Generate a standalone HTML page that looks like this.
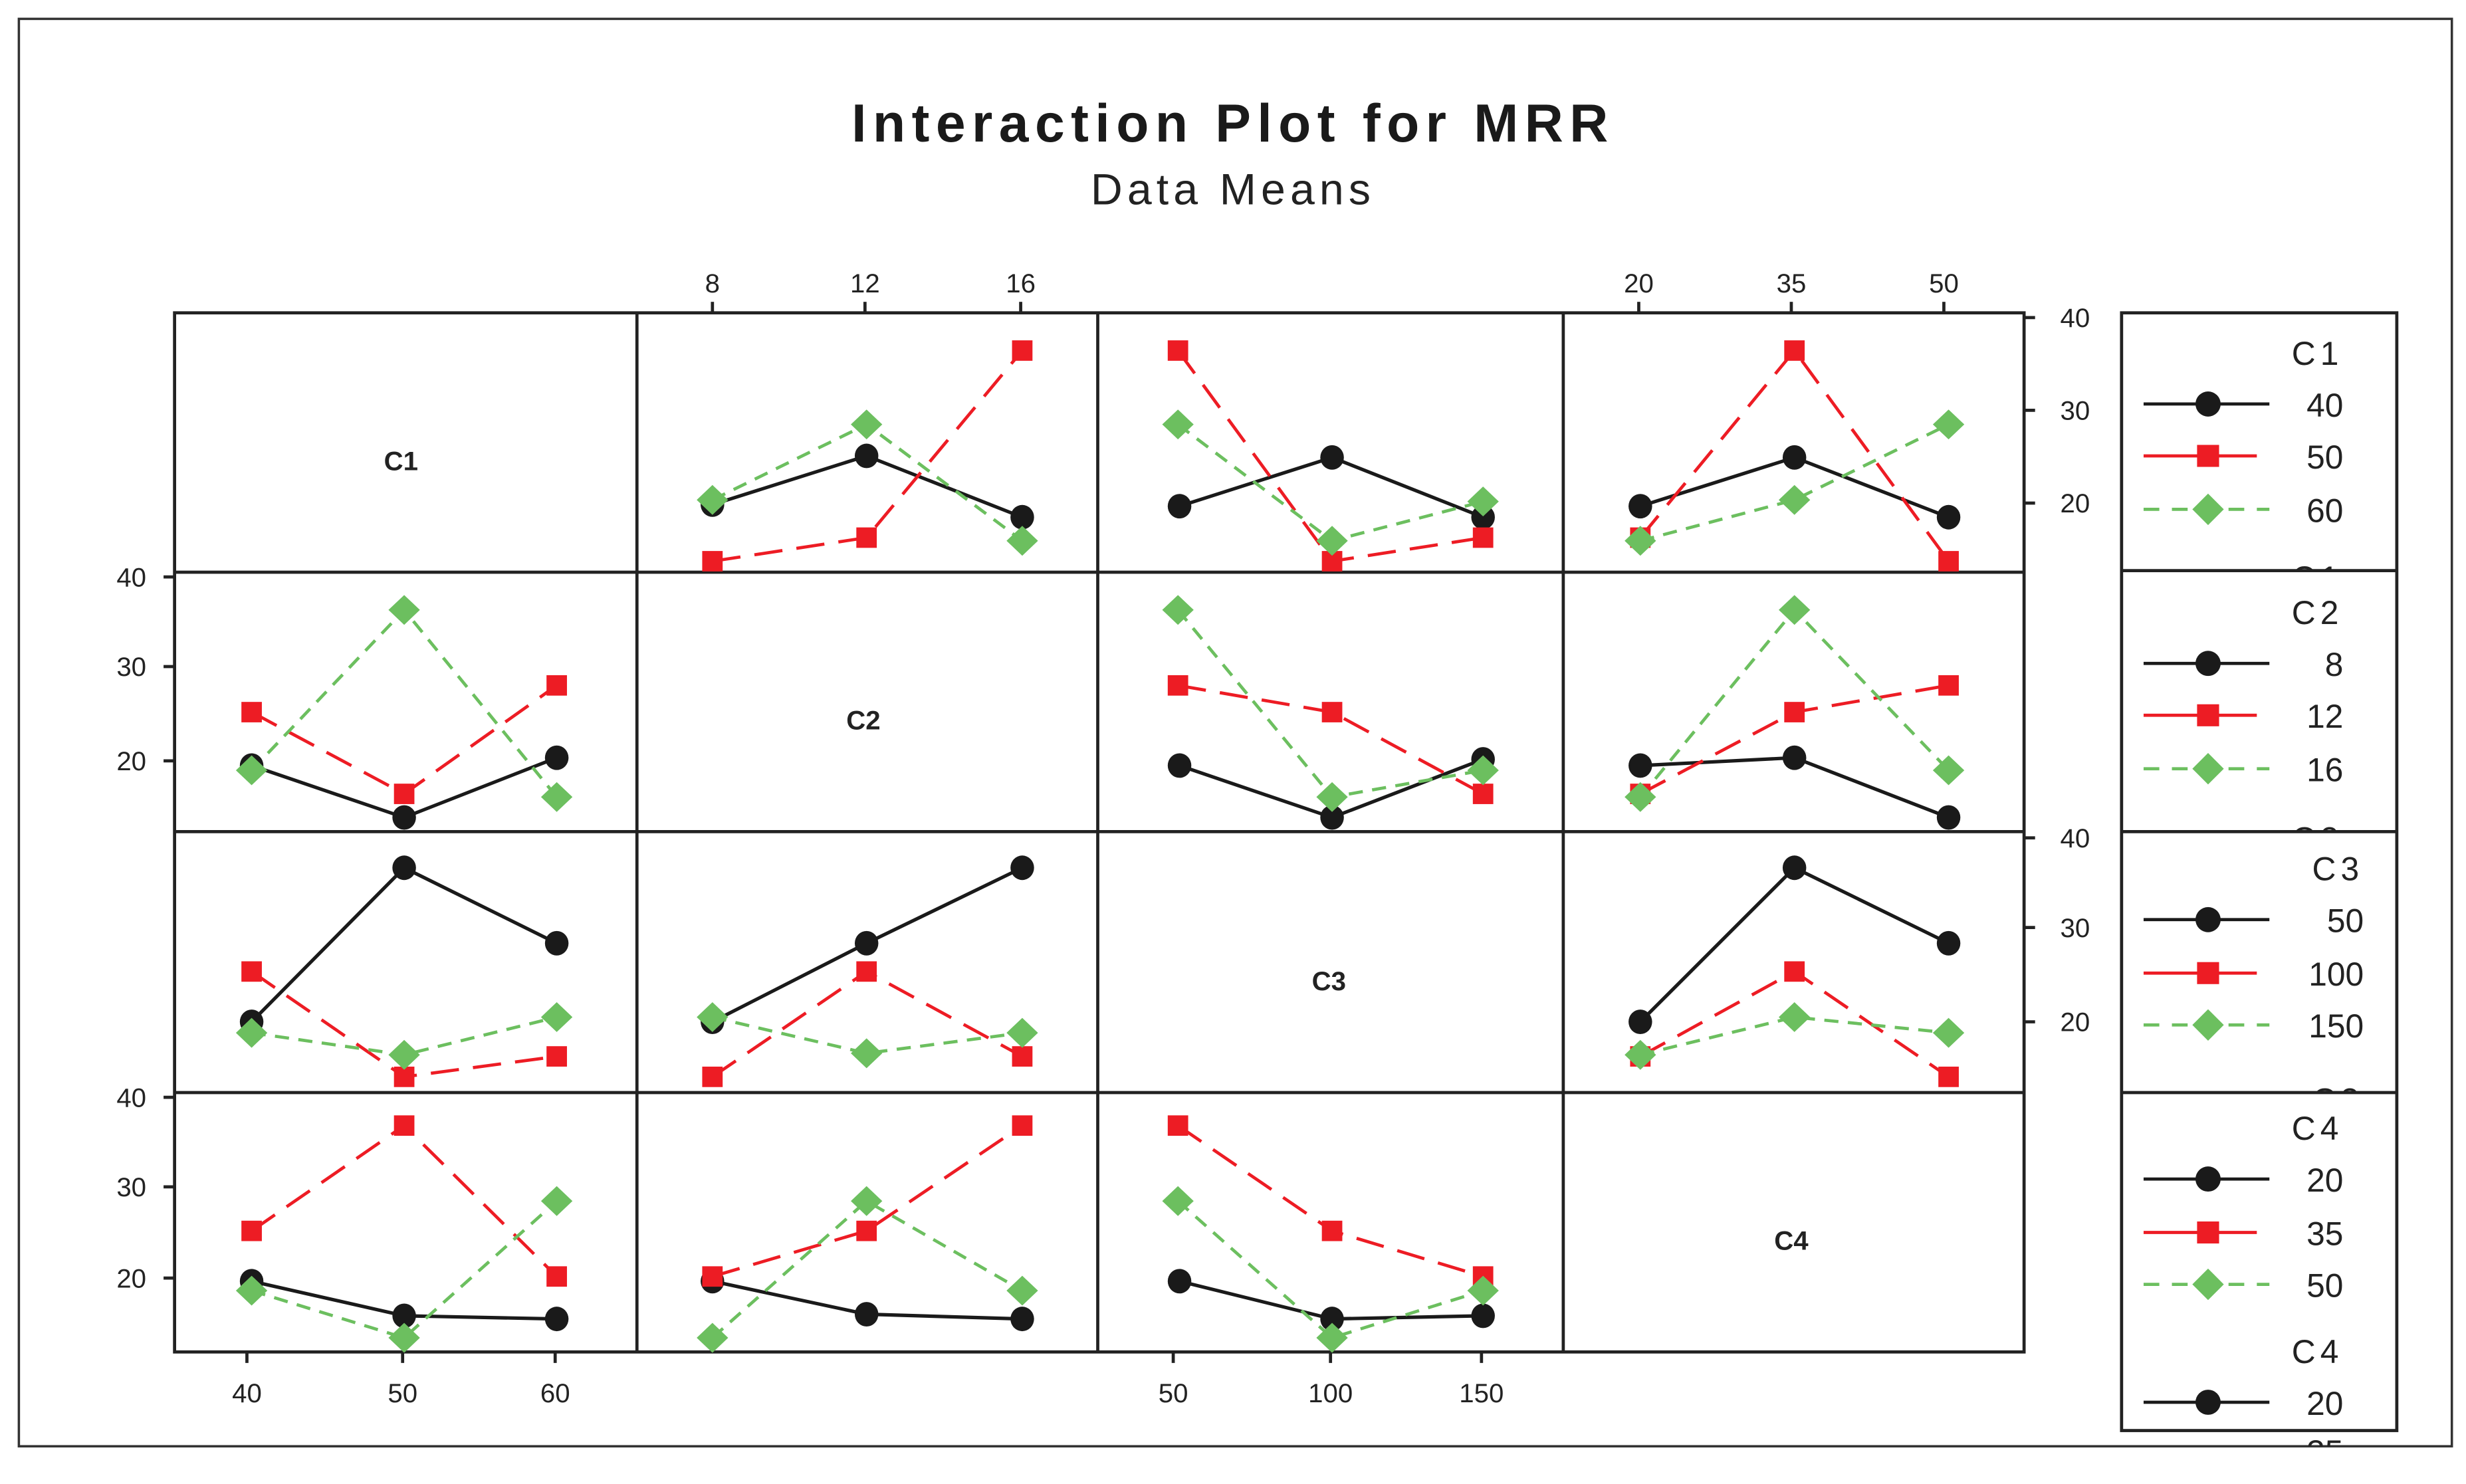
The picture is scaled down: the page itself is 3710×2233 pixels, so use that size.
<!DOCTYPE html>
<html><head><meta charset="utf-8"><style>
html,body{margin:0;padding:0;background:#fff;}
svg{display:block;}
text{font-family:"Liberation Sans","DejaVu Sans",sans-serif;fill:#222;}
</style></head><body>
<svg width="3710" height="2233" viewBox="0 0 1568 944" preserveAspectRatio="none" xmlns="http://www.w3.org/2000/svg">
<defs>
<clipPath id="k1"><rect x="1350" y="199" width="174" height="164"/></clipPath>
<clipPath id="k2"><rect x="1350" y="363" width="174" height="166"/></clipPath>
<clipPath id="k3"><rect x="1350" y="529" width="174" height="166"/></clipPath>
<clipPath id="k4"><rect x="1350" y="695" width="174" height="225"/></clipPath>
<g id="c"><ellipse cx="0" cy="0" rx="7.5" ry="7.8" fill="#1a1a1a"/></g>
<g id="s"><rect x="-6.5" y="-6.5" width="13" height="13" fill="#ed1c24"/></g>
<g id="d"><polygon points="0,-9.5 10,0 0,9.5 -10,0" fill="#6cbf5f"/></g>
</defs>
<rect x="0" y="0" width="1568" height="944" fill="#fff"/>
<rect x="12" y="12" width="1547" height="908" fill="none" stroke="#333" stroke-width="1.5"/>
<text x="784" y="90" font-size="34" font-weight="bold" text-anchor="middle" letter-spacing="4" style="fill:#1a1a1a">Interaction Plot for MRR</text>
<text x="784" y="130" font-size="28" text-anchor="middle" letter-spacing="3">Data Means</text>

<g stroke="#222" stroke-width="2" fill="none">
<rect x="111" y="199" width="1176" height="661"/>
<line x1="405" y1="199" x2="405" y2="860"/><line x1="698" y1="199" x2="698" y2="860"/><line x1="994" y1="199" x2="994" y2="860"/>
<line x1="111" y1="364" x2="1287" y2="364"/><line x1="111" y1="529" x2="1287" y2="529"/><line x1="111" y1="695" x2="1287" y2="695"/>
<line x1="453" y1="192" x2="453" y2="199"/><line x1="550" y1="192" x2="550" y2="199"/><line x1="649" y1="192" x2="649" y2="199"/>
<line x1="1042" y1="192" x2="1042" y2="199"/><line x1="1139" y1="192" x2="1139" y2="199"/><line x1="1236" y1="192" x2="1236" y2="199"/>
<line x1="1287" y1="202" x2="1294" y2="202"/><line x1="1287" y1="261" x2="1294" y2="261"/><line x1="1287" y1="320" x2="1294" y2="320"/>
<line x1="1287" y1="533" x2="1294" y2="533"/><line x1="1287" y1="590" x2="1294" y2="590"/><line x1="1287" y1="650" x2="1294" y2="650"/>
<line x1="104" y1="367" x2="111" y2="367"/><line x1="104" y1="424" x2="111" y2="424"/><line x1="104" y1="484" x2="111" y2="484"/>
<line x1="104" y1="698" x2="111" y2="698"/><line x1="104" y1="755" x2="111" y2="755"/><line x1="104" y1="813" x2="111" y2="813"/>
<line x1="157" y1="860" x2="157" y2="867"/><line x1="256" y1="860" x2="256" y2="867"/><line x1="353" y1="860" x2="353" y2="867"/>
<line x1="746" y1="860" x2="746" y2="867"/><line x1="846" y1="860" x2="846" y2="867"/><line x1="942" y1="860" x2="942" y2="867"/>
</g>
<g font-size="17" text-anchor="middle">
<text x="453" y="186">8</text><text x="550" y="186">12</text><text x="649" y="186">16</text>
<text x="1042" y="186">20</text><text x="1139" y="186">35</text><text x="1236" y="186">50</text>
<text x="157" y="892">40</text><text x="256" y="892">50</text><text x="353" y="892">60</text>
<text x="746" y="892">50</text><text x="846" y="892">100</text><text x="942" y="892">150</text>
</g>
<g font-size="17" text-anchor="start">
<text x="1310" y="208">40</text><text x="1310" y="267">30</text><text x="1310" y="326">20</text>
<text x="1310" y="539">40</text><text x="1310" y="596">30</text><text x="1310" y="656">20</text>
</g>
<g font-size="17" text-anchor="end">
<text x="93" y="373">40</text><text x="93" y="430">30</text><text x="93" y="490">20</text>
<text x="93" y="704">40</text><text x="93" y="761">30</text><text x="93" y="819">20</text>
</g>
<g font-size="17" font-weight="bold" text-anchor="middle">
<text x="255" y="299">C1</text><text x="549" y="464">C2</text><text x="845" y="630">C3</text><text x="1139" y="795">C4</text>
</g>

<g fill="none" stroke="#1a1a1a" stroke-width="2.2">
<polyline points="453,321 551,290 650,329"/><polyline points="750,322 847,291 943,329"/><polyline points="1043,322 1141,291 1239,329"/>
<polyline points="160,487 257,520 354,482"/><polyline points="750,487 847,520 943,483"/><polyline points="1043,487 1141,482 1239,520"/>
<polyline points="160,650 257,552 354,600"/><polyline points="453,650 551,600 650,552"/><polyline points="1043,650 1141,552 1239,600"/>
<polyline points="160,815 257,837 354,839"/><polyline points="453,815 551,836 650,839"/><polyline points="750,815 847,839 943,837"/>
</g>
<g fill="none" stroke="#ed1c24" stroke-width="2" stroke-dasharray="18,9">
<polyline points="453,357 551,342 650,223"/><polyline points="749,223 847,357 943,342"/><polyline points="1043,342 1141,223 1239,357"/>
<polyline points="160,453 257,505 354,436"/><polyline points="749,436 847,453 943,505"/><polyline points="1043,505 1141,453 1239,436"/>
<polyline points="160,618 257,685 354,672"/><polyline points="453,685 551,618 650,672"/><polyline points="1043,672 1141,618 1239,685"/>
<polyline points="160,783 257,716 354,812"/><polyline points="453,812 551,783 650,716"/><polyline points="749,716 847,783 943,812"/>
</g>
<g fill="none" stroke="#6cbf5f" stroke-width="2" stroke-dasharray="9,6">
<polyline points="453,318 551,270 650,344"/><polyline points="749,270 847,344 943,319"/><polyline points="1043,344 1141,318 1239,270"/>
<polyline points="160,490 257,388 354,507"/><polyline points="749,388 847,507 943,490"/><polyline points="1043,507 1141,388 1239,490"/>
<polyline points="160,657 257,671 354,647"/><polyline points="453,647 551,670 650,657"/><polyline points="1043,671 1141,647 1239,657"/>
<polyline points="160,821 257,851 354,764"/><polyline points="453,851 551,764 650,821"/><polyline points="749,764 847,851 943,821"/>
</g>
<use href="#c" x="453" y="321"/><use href="#c" x="551" y="290"/><use href="#c" x="650" y="329"/>
<use href="#c" x="750" y="322"/><use href="#c" x="847" y="291"/><use href="#c" x="943" y="329"/>
<use href="#c" x="1043" y="322"/><use href="#c" x="1141" y="291"/><use href="#c" x="1239" y="329"/>
<use href="#c" x="160" y="487"/><use href="#c" x="257" y="520"/><use href="#c" x="354" y="482"/>
<use href="#c" x="750" y="487"/><use href="#c" x="847" y="520"/><use href="#c" x="943" y="483"/>
<use href="#c" x="1043" y="487"/><use href="#c" x="1141" y="482"/><use href="#c" x="1239" y="520"/>
<use href="#c" x="160" y="650"/><use href="#c" x="257" y="552"/><use href="#c" x="354" y="600"/>
<use href="#c" x="453" y="650"/><use href="#c" x="551" y="600"/><use href="#c" x="650" y="552"/>
<use href="#c" x="1043" y="650"/><use href="#c" x="1141" y="552"/><use href="#c" x="1239" y="600"/>
<use href="#c" x="160" y="815"/><use href="#c" x="257" y="837"/><use href="#c" x="354" y="839"/>
<use href="#c" x="453" y="815"/><use href="#c" x="551" y="836"/><use href="#c" x="650" y="839"/>
<use href="#c" x="750" y="815"/><use href="#c" x="847" y="839"/><use href="#c" x="943" y="837"/>

<use href="#s" x="453" y="357"/><use href="#s" x="551" y="342"/><use href="#s" x="650" y="223"/>
<use href="#s" x="749" y="223"/><use href="#s" x="847" y="357"/><use href="#s" x="943" y="342"/>
<use href="#s" x="1043" y="342"/><use href="#s" x="1141" y="223"/><use href="#s" x="1239" y="357"/>
<use href="#s" x="160" y="453"/><use href="#s" x="257" y="505"/><use href="#s" x="354" y="436"/>
<use href="#s" x="749" y="436"/><use href="#s" x="847" y="453"/><use href="#s" x="943" y="505"/>
<use href="#s" x="1043" y="505"/><use href="#s" x="1141" y="453"/><use href="#s" x="1239" y="436"/>
<use href="#s" x="160" y="618"/><use href="#s" x="257" y="685"/><use href="#s" x="354" y="672"/>
<use href="#s" x="453" y="685"/><use href="#s" x="551" y="618"/><use href="#s" x="650" y="672"/>
<use href="#s" x="1043" y="672"/><use href="#s" x="1141" y="618"/><use href="#s" x="1239" y="685"/>
<use href="#s" x="160" y="783"/><use href="#s" x="257" y="716"/><use href="#s" x="354" y="812"/>
<use href="#s" x="453" y="812"/><use href="#s" x="551" y="783"/><use href="#s" x="650" y="716"/>
<use href="#s" x="749" y="716"/><use href="#s" x="847" y="783"/><use href="#s" x="943" y="812"/>

<use href="#d" x="453" y="318"/><use href="#d" x="551" y="270"/><use href="#d" x="650" y="344"/>
<use href="#d" x="749" y="270"/><use href="#d" x="847" y="344"/><use href="#d" x="943" y="319"/>
<use href="#d" x="1043" y="344"/><use href="#d" x="1141" y="318"/><use href="#d" x="1239" y="270"/>
<use href="#d" x="160" y="490"/><use href="#d" x="257" y="388"/><use href="#d" x="354" y="507"/>
<use href="#d" x="749" y="388"/><use href="#d" x="847" y="507"/><use href="#d" x="943" y="490"/>
<use href="#d" x="1043" y="507"/><use href="#d" x="1141" y="388"/><use href="#d" x="1239" y="490"/>
<use href="#d" x="160" y="657"/><use href="#d" x="257" y="671"/><use href="#d" x="354" y="647"/>
<use href="#d" x="453" y="647"/><use href="#d" x="551" y="670"/><use href="#d" x="650" y="657"/>
<use href="#d" x="1043" y="671"/><use href="#d" x="1141" y="647"/><use href="#d" x="1239" y="657"/>
<use href="#d" x="160" y="821"/><use href="#d" x="257" y="851"/><use href="#d" x="354" y="764"/>
<use href="#d" x="453" y="851"/><use href="#d" x="551" y="764"/><use href="#d" x="650" y="821"/>
<use href="#d" x="749" y="764"/><use href="#d" x="847" y="851"/><use href="#d" x="943" y="821"/>

<g font-size="21" text-anchor="end">
<g clip-path="url(#k1)">
<text x="1490" y="232" letter-spacing="3">C1</text>
<line x1="1363" y1="257" x2="1443" y2="257" stroke="#1a1a1a" stroke-width="2"/><ellipse cx="1404" cy="257" rx="8" ry="8" fill="#1a1a1a"/>
<line x1="1363" y1="290" x2="1435" y2="290" stroke="#ed1c24" stroke-width="2"/><rect x="1397" y="283" width="14" height="14" fill="#ed1c24"/>
<line x1="1363" y1="324" x2="1443" y2="324" stroke="#6cbf5f" stroke-width="2" stroke-dasharray="10,8"/><polygon points="1404,314 1414,324 1404,334 1394,324" fill="#6cbf5f"/>
<text x="1490" y="265">40</text><text x="1490" y="298">50</text><text x="1490" y="332">60</text>
<text x="1490" y="375" letter-spacing="3">C1</text>
</g>
<g clip-path="url(#k2)">
<text x="1490" y="397" letter-spacing="3">C2</text>
<line x1="1363" y1="422" x2="1443" y2="422" stroke="#1a1a1a" stroke-width="2"/><ellipse cx="1404" cy="422" rx="8" ry="8" fill="#1a1a1a"/>
<line x1="1363" y1="455" x2="1435" y2="455" stroke="#ed1c24" stroke-width="2"/><rect x="1397" y="448" width="14" height="14" fill="#ed1c24"/>
<line x1="1363" y1="489" x2="1443" y2="489" stroke="#6cbf5f" stroke-width="2" stroke-dasharray="10,8"/><polygon points="1404,479 1414,489 1404,499 1394,489" fill="#6cbf5f"/>
<text x="1490" y="430">8</text><text x="1490" y="463">12</text><text x="1490" y="497">16</text>
<text x="1490" y="541" letter-spacing="3">C2</text>
</g>
<g clip-path="url(#k3)">
<text x="1503" y="560" letter-spacing="3">C3</text>
<line x1="1363" y1="585" x2="1443" y2="585" stroke="#1a1a1a" stroke-width="2"/><ellipse cx="1404" cy="585" rx="8" ry="8" fill="#1a1a1a"/>
<line x1="1363" y1="619" x2="1435" y2="619" stroke="#ed1c24" stroke-width="2"/><rect x="1397" y="612" width="14" height="14" fill="#ed1c24"/>
<line x1="1363" y1="652" x2="1443" y2="652" stroke="#6cbf5f" stroke-width="2" stroke-dasharray="10,8"/><polygon points="1404,642 1414,652 1404,662 1394,652" fill="#6cbf5f"/>
<text x="1503" y="593">50</text><text x="1503" y="627">100</text><text x="1503" y="660">150</text>
<text x="1503" y="707" letter-spacing="3">C3</text>
</g>
<g clip-path="url(#k4)">
<text x="1490" y="725" letter-spacing="3">C4</text>
<line x1="1363" y1="750" x2="1443" y2="750" stroke="#1a1a1a" stroke-width="2"/><ellipse cx="1404" cy="750" rx="8" ry="8" fill="#1a1a1a"/>
<line x1="1363" y1="784" x2="1435" y2="784" stroke="#ed1c24" stroke-width="2"/><rect x="1397" y="777" width="14" height="14" fill="#ed1c24"/>
<line x1="1363" y1="817" x2="1443" y2="817" stroke="#6cbf5f" stroke-width="2" stroke-dasharray="10,8"/><polygon points="1404,807 1414,817 1404,827 1394,817" fill="#6cbf5f"/>
<text x="1490" y="758">20</text><text x="1490" y="792">35</text><text x="1490" y="825">50</text>
<text x="1490" y="867" letter-spacing="3">C4</text>
<line x1="1363" y1="892" x2="1443" y2="892" stroke="#1a1a1a" stroke-width="2"/><ellipse cx="1404" cy="892" rx="8" ry="8" fill="#1a1a1a"/>
<text x="1490" y="900">20</text>
<text x="1490" y="931">35</text>
</g>
</g>
<g fill="none" stroke="#222" stroke-width="2">
<rect x="1349" y="199" width="175" height="711"/>
<line x1="1349" y1="363" x2="1524" y2="363"/><line x1="1349" y1="529" x2="1524" y2="529"/><line x1="1349" y1="695" x2="1524" y2="695"/>
</g>
</svg>
</body></html>
